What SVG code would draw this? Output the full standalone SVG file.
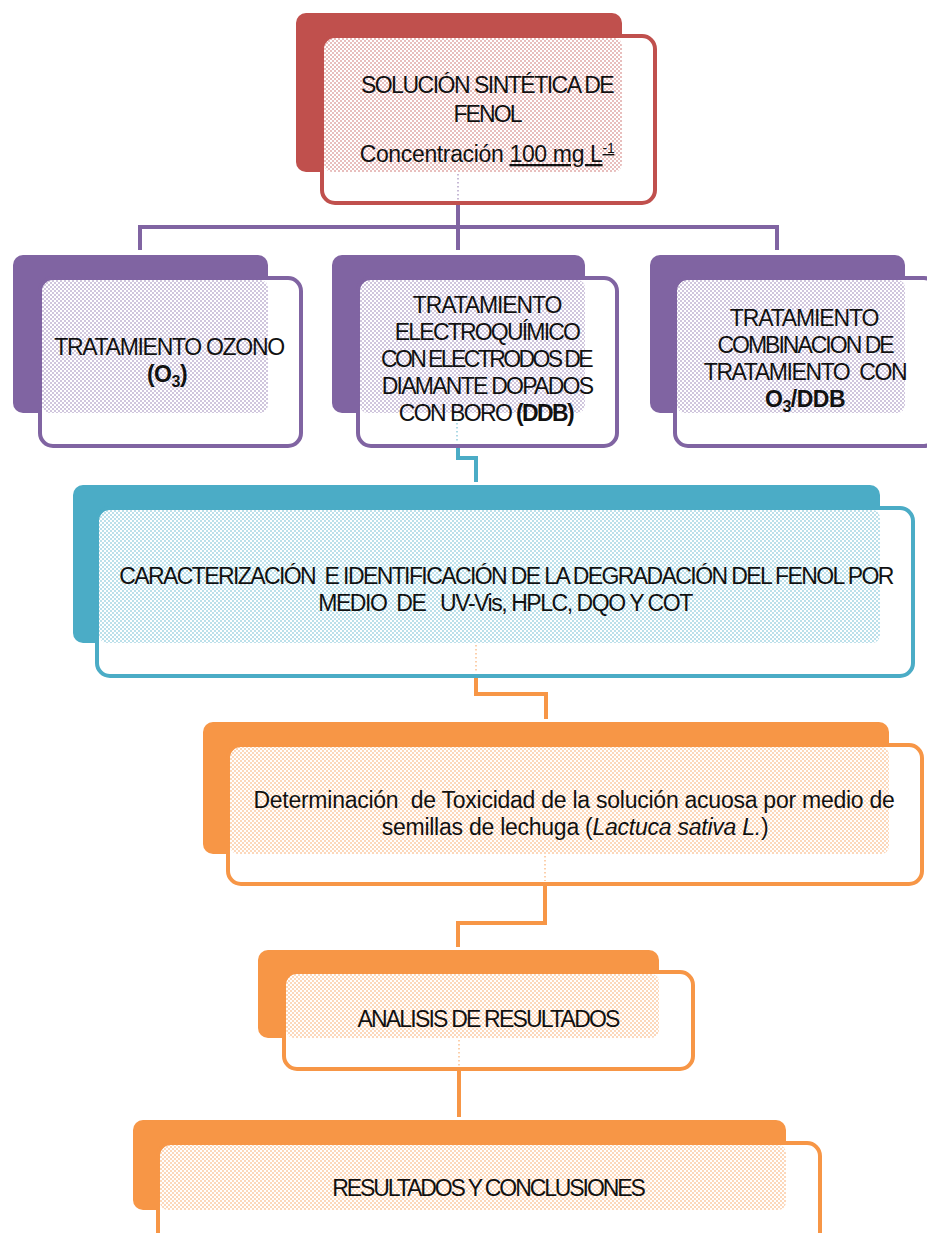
<svg xmlns="http://www.w3.org/2000/svg" width="927" height="1233" viewBox="0 0 927 1233">
<style>
  text { font-family: "Liberation Sans", Arial, sans-serif; font-size: 23px; fill: #111; text-anchor: middle; }
  .b { font-weight: bold; }
  .i { font-style: italic; }
  .u { text-decoration: underline; }
  .back { stroke: none; }
  .front { fill: #ffffff; stroke-width: 4; }
  .conn { fill: none; stroke-width: 4; stroke-linejoin: miter; }
  .dot { fill: none; stroke-width: 1.5; stroke-dasharray: 1.5 2.5; opacity: 0.6; }
  .red .back { fill: #C0504D; } .red .front { stroke: #C0504D; }
  .pur .back { fill: #8064A2; } .pur .front { stroke: #8064A2; }
  .teal .back { fill: #4BACC6; } .teal .front { stroke: #4BACC6; }
  .ora .back { fill: #F79646; } .ora .front { stroke: #F79646; }
</style>
<defs>
  <pattern id="pRed" width="4" height="4" patternUnits="userSpaceOnUse">
    <circle cx="1" cy="1" r="0.8" fill="#C0504D" opacity="0.85"/><circle cx="3" cy="3" r="0.8" fill="#C0504D" opacity="0.85"/>
  </pattern>
  <pattern id="pPur" width="4" height="4" patternUnits="userSpaceOnUse">
    <circle cx="1" cy="1" r="0.8" fill="#8064A2" opacity="0.85"/><circle cx="3" cy="3" r="0.8" fill="#8064A2" opacity="0.85"/>
  </pattern>
  <pattern id="pTeal" width="4" height="4" patternUnits="userSpaceOnUse">
    <circle cx="1" cy="1" r="0.8" fill="#4BACC6" opacity="0.85"/><circle cx="3" cy="3" r="0.8" fill="#4BACC6" opacity="0.85"/>
  </pattern>
  <pattern id="pOra" width="4" height="4" patternUnits="userSpaceOnUse">
    <circle cx="1" cy="1" r="0.8" fill="#F79646" opacity="0.85"/><circle cx="3" cy="3" r="0.8" fill="#F79646" opacity="0.85"/>
  </pattern>
</defs>

<rect width="927" height="1233" fill="#ffffff"/>

<g id="node-solucion" class="red">
  <rect class="back" x="296" y="13" width="326" height="159" rx="10"/>
  <rect class="front" x="322" y="36" width="333" height="167" rx="13"/>
  <rect x="324" y="38" width="298" height="134" rx="8" fill="url(#pRed)"/>
  <text x="487" y="93" style="letter-spacing:-1.5px">SOLUCIÓN SINTÉTICA DE</text>
  <text x="487" y="122" style="letter-spacing:-1.9px">FENOL</text>
  <text x="487" y="162" style="letter-spacing:-0.35px">Concentración <tspan class="u">100 mg L<tspan style="font-size:14px" dy="-9">-1</tspan></tspan></text>
</g>

<g id="node-ozono" class="pur">
  <rect class="back" x="13" y="255" width="255" height="158" rx="10"/>
  <rect class="front" x="40" y="278" width="261" height="168" rx="13"/>
  <rect x="42" y="280" width="226" height="133" rx="8" fill="url(#pPur)"/>
  <text x="169" y="355" style="letter-spacing:-1.3px">TRATAMIENTO OZONO</text>
  <text x="167" y="382" class="b" style="letter-spacing:-0.5px">(O<tspan style="font-size:16px" dy="5">3</tspan><tspan dy="-5">)</tspan></text>
</g>

<g id="node-electroquimico" class="pur">
  <rect class="back" x="332" y="255" width="253" height="158" rx="10"/>
  <rect class="front" x="358" y="278" width="259" height="168" rx="13"/>
  <rect x="360" y="280" width="225" height="133" rx="8" fill="url(#pPur)"/>
  <text x="487" y="313" style="letter-spacing:-1.15px">TRATAMIENTO</text>
  <text x="487" y="340" style="letter-spacing:-1.8px">ELECTROQUÍMICO</text>
  <text x="486" y="367" style="letter-spacing:-2.6px">CON ELECTRODOS DE</text>
  <text x="487" y="394" style="letter-spacing:-1.75px">DIAMANTE DOPADOS</text>
  <text x="486" y="421" style="letter-spacing:-1.6px">CON BORO <tspan class="b">(DDB)</tspan></text>
</g>

<g id="node-combinacion" class="pur">
  <rect class="back" x="650" y="255" width="255" height="158" rx="10"/>
  <rect class="front" x="675" y="278" width="262" height="168" rx="13"/>
  <rect x="677" y="280" width="228" height="133" rx="8" fill="url(#pPur)"/>
  <text x="804" y="326" style="letter-spacing:-1.15px">TRATAMIENTO</text>
  <text x="805" y="353" style="letter-spacing:-2px">COMBINACION DE</text>
  <text x="805" y="380" xml:space="preserve" style="letter-spacing:-1.4px">TRATAMIENTO  CON</text>
  <text x="805" y="407" class="b" style="letter-spacing:-0.5px">O<tspan style="font-size:16px" dy="5">3</tspan><tspan dy="-5">/DDB</tspan></text>
</g>

<g id="node-caracterizacion" class="teal">
  <rect class="back" x="73" y="485" width="807" height="158" rx="10"/>
  <rect class="front" x="97" y="508" width="816" height="168" rx="13"/>
  <rect x="99" y="510" width="781" height="133" rx="8" fill="url(#pTeal)"/>
  <text x="506" y="584" xml:space="preserve" style="letter-spacing:-1.6px">CARACTERIZACIÓN  E IDENTIFICACIÓN DE LA DEGRADACIÓN DEL FENOL POR</text>
  <text x="505" y="611" xml:space="preserve" style="letter-spacing:-1.45px">MEDIO  DE   UV-Vis, HPLC, DQO Y COT</text>
</g>

<g id="node-toxicidad" class="ora">
  <rect class="back" x="203" y="722" width="686" height="132" rx="10"/>
  <rect class="front" x="228" y="745" width="694" height="139" rx="13"/>
  <rect x="230" y="747" width="659" height="107" rx="8" fill="url(#pOra)"/>
  <text x="574" y="808" xml:space="preserve" style="letter-spacing:-0.25px">Determinación  de Toxicidad de la solución acuosa por medio de</text>
  <text x="575" y="835" style="letter-spacing:-0.25px">semillas de lechuga (<tspan class="i">Lactuca sativa L.</tspan>)</text>
</g>

<g id="node-analisis" class="ora">
  <rect class="back" x="258" y="950" width="401" height="88" rx="10"/>
  <rect class="front" x="284" y="972" width="409" height="97" rx="13"/>
  <rect x="286" y="974" width="373" height="64" rx="8" fill="url(#pOra)"/>
  <text x="488" y="1027" style="letter-spacing:-1.8px">ANALISIS DE RESULTADOS</text>
</g>

<g id="node-resultados" class="ora">
  <rect class="back" x="133" y="1120" width="653" height="90" rx="10"/>
  <rect class="front" x="158" y="1143" width="662" height="110" rx="13"/>
  <rect x="160" y="1145" width="626" height="65" rx="8" fill="url(#pOra)"/>
  <text x="488" y="1196" style="letter-spacing:-2.1px">RESULTADOS Y CONCLUSIONES</text>
</g>

<g id="connectors">
  <line class="dot" x1="458" y1="174" x2="458" y2="200" stroke="#8064A2"/>
  <path class="conn" stroke="#8064A2" d="M458 205 V227 M140 250 V227 H777 V250 M458 227 V250"/>
  <line class="dot" x1="457" y1="415" x2="457" y2="442" stroke="#4BACC6"/>
  <path class="conn" stroke="#4BACC6" d="M458 448 V458 H476 V482"/>
  <line class="dot" x1="476" y1="645" x2="476" y2="672" stroke="#F79646"/>
  <path class="conn" stroke="#F79646" d="M476 678 V694 H546 V719"/>
  <line class="dot" x1="545" y1="856" x2="545" y2="881" stroke="#F79646"/>
  <path class="conn" stroke="#F79646" d="M545 886 V923 H458 V947"/>
  <line class="dot" x1="459" y1="1040" x2="459" y2="1066" stroke="#F79646"/>
  <path class="conn" stroke="#F79646" d="M459 1071 V1117"/>
</g>
</svg>
